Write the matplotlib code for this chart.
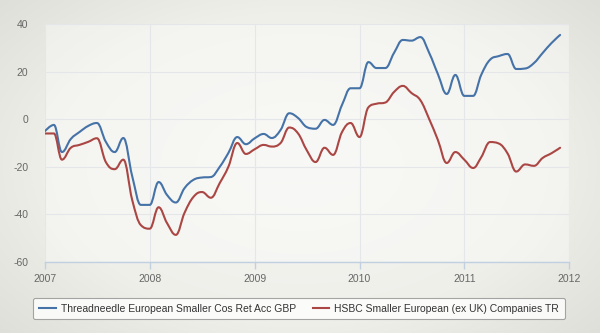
import matplotlib

matplotlib.use("Agg")

import matplotlib.pyplot as plt
import matplotlib.dates as mdates
from matplotlib.colors import LinearSegmentedColormap
from matplotlib.lines import Line2D
from matplotlib.patches import PathPatch
from matplotlib.path import Path
import numpy as np
import pandas as pd

plt.rcParams["font.family"] = ["Liberation Sans", "DejaVu Sans"]
plt.rcParams["axes.unicode_minus"] = False

# monthly values, Jan 2007 .. Dec 2011 (% growth)
months = pd.date_range("2007-01-01", periods=60, freq="MS")
threadneedle = [
    -5, -2.4, -13.8, -8.3, -5.4, -2.8, -1.6, -9.5, -13.8, -7.9, -24, -36,
    -36, -26.4, -31.8, -35, -29, -25.5, -24.5, -24.3, -20, -14.2, -7.5, -10.5,
    -8, -6.2, -7.9, -4.5, 2.5, 0.5, -3.3, -4, -0.3, -2.4, 6, 13,
    13, 24, 21.5, 21.5, 27.8, 33.3, 33, 34.5, 27.8, 19, 10.6, 18.6,
    9.8, 9.8, 18.6, 25, 26.5, 27.4, 21.1, 21.3, 23.6, 27.8, 32, 35.4,
]
hsbc = [
    -6, -6, -17, -12, -10.8, -9.5, -8, -18, -21, -17, -34, -44.5,
    -46, -37, -43.6, -48.6, -39.4, -32.7, -30.6, -33, -26.8, -20, -10, -14.6,
    -12.6, -10.8, -11.5, -10, -3.5, -6, -13, -18, -12, -15, -5.4, -1.6,
    -7.5, 5, 6.5, 7, 11.4, 14, 11, 8, 0, -8.7, -18.4, -13.8,
    -17, -20.5, -16, -9.6, -10.2, -14.4, -22, -19, -19.6, -16.3, -14.3, -12,
]
series_names = [
    "Threadneedle European Smaller Cos Ret Acc GBP",
    "HSBC Smaller European (ex UK) Companies TR",
]
y_ticks = [-60, -40, -20, 0, 20, 40]
year_ticks = pd.date_range("2007-01-01", "2012-01-01", freq="YS")

blue = "#4572A7"
red = "#AA4643"
grid_c = "#e4e6ea"
label_c = "#666666"


def spline_path(xs, ys, smoothing=1.5):
    """Bezier path through the points, with spline-style control points."""
    n = len(xs)
    left = [(xs[i], ys[i]) for i in range(n)]
    right = [(xs[i], ys[i]) for i in range(n)]
    d = smoothing + 1
    for i in range(1, n - 1):
        lx, ly = xs[i - 1], ys[i - 1]
        px, py = xs[i], ys[i]
        nx, ny = xs[i + 1], ys[i + 1]
        lcx, lcy = (smoothing * px + lx) / d, (smoothing * py + ly) / d
        rcx, rcy = (smoothing * px + nx) / d, (smoothing * py + ny) / d
        corr = (rcy - lcy) * (rcx - px) / (rcx - lcx) + py - rcy
        lcy += corr
        rcy += corr
        if lcy > ly and lcy > py:
            lcy = max(ly, py)
            rcy = 2 * py - lcy
        elif lcy < ly and lcy < py:
            lcy = min(ly, py)
            rcy = 2 * py - lcy
        if rcy > ny and rcy > py:
            rcy = max(ny, py)
            lcy = 2 * py - rcy
        elif rcy < ny and rcy < py:
            rcy = min(ny, py)
            lcy = 2 * py - rcy
        left[i] = (lcx, lcy)
        right[i] = (rcx, rcy)
    verts = [(xs[0], ys[0])]
    codes = [Path.MOVETO]
    for i in range(1, n):
        verts += [right[i - 1], left[i], (xs[i], ys[i])]
        codes += [Path.CURVE4] * 3
    return Path(verts, codes)


fig = plt.figure(figsize=(6, 3.33), dpi=100)

# paper-like backdrop: light centre, greyer edges
bg = fig.add_axes([0, 0, 1, 1], zorder=-1)
gx, gy = np.meshgrid(np.linspace(-1, 1, 300), np.linspace(-1, 1, 170))
r = np.sqrt((gx * 0.9) ** 2 + (gy * 0.8) ** 2)
paper = LinearSegmentedColormap.from_list("paper", ["#f4f4f0", "#efefea", "#dcdcd6"])
bg.imshow(r, cmap=paper, aspect="auto", extent=(0, 1, 0, 1), vmin=0.2, vmax=1.3)
bg.set_axis_off()

ax = fig.add_axes([45 / 600, 1 - 262 / 333, 524 / 600, 238 / 333])
ax.set_facecolor((1, 1, 1, 0.35))

xnum = mdates.date2num(months)
for values, color in ((threadneedle, blue), (hsbc, red)):
    ax.add_patch(PathPatch(spline_path(xnum, values), fill=False, edgecolor=color,
                           lw=1.5, joinstyle="round", capstyle="round", zorder=3))

ax.set_xlim(year_ticks[0], year_ticks[-1])
ax.set_ylim(-60, 40)
ax.set_yticks(y_ticks)
ax.set_xticks(year_ticks)
ax.xaxis.set_major_formatter(mdates.DateFormatter("%Y"))

ax.grid(True, color=grid_c, lw=0.8)
ax.set_axisbelow(True)
for side in ("top", "right", "left"):
    ax.spines[side].set_visible(False)
ax.spines["bottom"].set_color("#c0d0e0")
ax.spines["bottom"].set_linewidth(1)

ax.tick_params(axis="x", colors="#c0d0e0", length=5, width=1, pad=4,
               labelcolor=label_c, labelsize=7.5)
ax.tick_params(axis="y", length=0, pad=12, labelcolor=label_c, labelsize=7.5)

handles = [Line2D([], [], color=c, lw=1.5) for c in (blue, red)]
leg = fig.legend(
    handles, series_names, ncol=2, loc="center",
    bbox_to_anchor=(0.4985, 1 - 308.5 / 333),
    fontsize=7.5, frameon=True, fancybox=True, handlelength=1.6,
    handletextpad=0.5, columnspacing=1.6, borderpad=0.55,
)
leg.get_frame().set_edgecolor("#909090")
leg.get_frame().set_facecolor((1, 1, 1, 0.15))
leg.get_frame().set_linewidth(0.8)
for t in leg.get_texts():
    t.set_color("#333333")

fig.savefig("out.png", dpi=100)
